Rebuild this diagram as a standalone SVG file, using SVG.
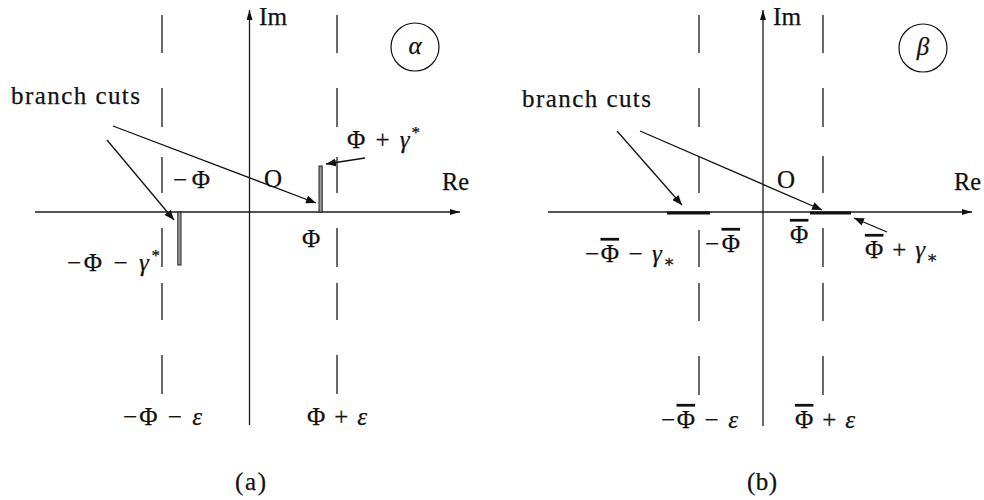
<svg xmlns="http://www.w3.org/2000/svg" width="984" height="500" viewBox="0 0 984 500">
<defs>
<marker id="ah" viewBox="0 0 10 8" refX="10" refY="4" markerWidth="10" markerHeight="8" markerUnits="userSpaceOnUse" orient="auto">
<path d="M0,0 L10,4 L0,8 Z" fill="#111"/>
</marker>
<marker id="axh" viewBox="0 0 10 6" refX="10" refY="3" markerWidth="10" markerHeight="6" markerUnits="userSpaceOnUse" orient="auto">
<path d="M0,0 L10,3 L0,6 Z" fill="#111"/>
</marker>
</defs>
<style>
text{font-family:"Liberation Serif","DejaVu Serif",serif;font-size:25px;fill:#111;stroke:#111;stroke-width:0.25}
.it{font-style:italic}
.sm{font-size:17px}
.bar{text-decoration:overline}
.ax{stroke:#1a1a1a;stroke-width:1.3;fill:none}
.dash{stroke:#1a1a1a;stroke-width:1.3;fill:none}
.arr{stroke:#111;stroke-width:1.3;fill:none;marker-end:url(#ah)}
.vcut{fill:#999;stroke:#222;stroke-width:1}
.hcut{stroke:#111;stroke-width:3.2}
.circ{fill:none;stroke:#111;stroke-width:1.2}
</style>

<g id="panel-a">
  <g id="axes-a">
    <line class="ax" x1="35" y1="212" x2="460" y2="212" marker-end="url(#axh)"/>
    <line class="ax" x1="249.5" y1="425" x2="249.5" y2="10" marker-end="url(#axh)"/>
    <text x="259" y="25" textLength="28" lengthAdjust="spacingAndGlyphs">Im</text>
    <text x="442" y="190" textLength="27" lengthAdjust="spacingAndGlyphs">Re</text>
    <text x="264" y="187">O</text>
  </g>
  <g id="dashes-a">
    <path class="dash" d="M162,15V53M162,88V127M162,157V193M162,228V267M162,283V320M162,355V394"/>
    <path class="dash" d="M337,15V53M337,88V127M337,157V193M337,228V267M337,283V320M337,355V394"/>
  </g>
  <g id="cuts-a">
    <rect class="vcut" x="319" y="166" width="3.2" height="46"/>
    <rect class="vcut" x="177.8" y="212" width="3.2" height="53"/>
  </g>
  <g id="label-alpha">
    <circle class="circ" cx="415" cy="47" r="24"/>
    <text class="it" x="415" y="54" text-anchor="middle">α</text>
  </g>
  <g id="label-branch-a">
    <text x="11" y="104" textLength="129" lengthAdjust="spacing">branch cuts</text>
  </g>
  <g id="labels-a">
    <text x="173" y="188" textLength="37" lengthAdjust="spacing">−Φ</text>
    <text x="302" y="247">Φ</text>
    <text x="347" y="148" textLength="73" lengthAdjust="spacing">Φ + <tspan class="it">γ</tspan><tspan class="sm" dy="-10">*</tspan></text>
    <text x="67" y="271" textLength="93" lengthAdjust="spacing">−Φ − <tspan class="it">γ</tspan><tspan class="sm" dy="-10">*</tspan></text>
    <text x="123" y="425" textLength="79" lengthAdjust="spacing">−Φ − <tspan class="it">ε</tspan></text>
    <text x="307" y="425" textLength="60" lengthAdjust="spacing">Φ + <tspan class="it">ε</tspan></text>
    <text x="235" y="490" textLength="31" lengthAdjust="spacing">(a)</text>
  </g>
</g>

<g id="panel-b">
  <g id="axes-b">
    <line class="ax" x1="548" y1="212" x2="972" y2="212" marker-end="url(#axh)"/>
    <line class="ax" x1="763" y1="426" x2="763" y2="10" marker-end="url(#axh)"/>
    <text x="773" y="25" textLength="28" lengthAdjust="spacingAndGlyphs">Im</text>
    <text x="954" y="190" textLength="27" lengthAdjust="spacingAndGlyphs">Re</text>
    <text x="777" y="188">O</text>
  </g>
  <g id="dashes-b">
    <path class="dash" d="M699,15V53M699,88V127M699,156V193M699,230V267M699,283V321M699,356V395"/>
    <path class="dash" d="M823,15V53M823,88V127M823,156V193M823,228V267M823,283V321M823,356V395"/>
  </g>
  <g id="cuts-b">
    <line class="hcut" x1="667" y1="213" x2="710" y2="213"/>
    <line class="hcut" x1="810" y1="213" x2="851" y2="213"/>
  </g>
  <g id="label-beta">
    <circle class="circ" cx="923" cy="48" r="24"/>
    <text class="it" x="923" y="55" text-anchor="middle">β</text>
  </g>
  <g id="label-branch-b">
    <text x="522" y="107" textLength="129" lengthAdjust="spacing">branch cuts</text>
  </g>
  <g id="labels-b">
    <text x="705" y="252" textLength="35" lengthAdjust="spacing">−<tspan class="bar">Φ</tspan></text>
    <text x="790" y="243"><tspan class="bar">Φ</tspan></text>
    <text x="585" y="262" textLength="90" lengthAdjust="spacing">−<tspan class="bar">Φ</tspan> − <tspan class="it">γ</tspan><tspan class="sm" dy="5">∗</tspan></text>
    <text x="865" y="258" textLength="73" lengthAdjust="spacing"><tspan class="bar">Φ</tspan> + <tspan class="it">γ</tspan><tspan class="sm" dy="5">∗</tspan></text>
    <text x="661" y="428" textLength="77" lengthAdjust="spacing">−<tspan class="bar">Φ</tspan> − <tspan class="it">ε</tspan></text>
    <text x="795" y="428" textLength="60" lengthAdjust="spacing"><tspan class="bar">Φ</tspan> + <tspan class="it">ε</tspan></text>
    <text x="747" y="490" textLength="30" lengthAdjust="spacing">(b)</text>
  </g>
</g>

<g id="connectors">
  <line class="arr" x1="113" y1="126" x2="316" y2="203"/>
  <line class="arr" x1="107" y1="140" x2="174" y2="220"/>
  <line class="arr" x1="365" y1="158" x2="326" y2="164"/>
  <line class="arr" x1="617" y1="131" x2="682" y2="205"/>
  <line class="arr" x1="640" y1="131" x2="822" y2="210"/>
  <line class="arr" x1="887" y1="232" x2="854" y2="218"/>
</g>
</svg>
